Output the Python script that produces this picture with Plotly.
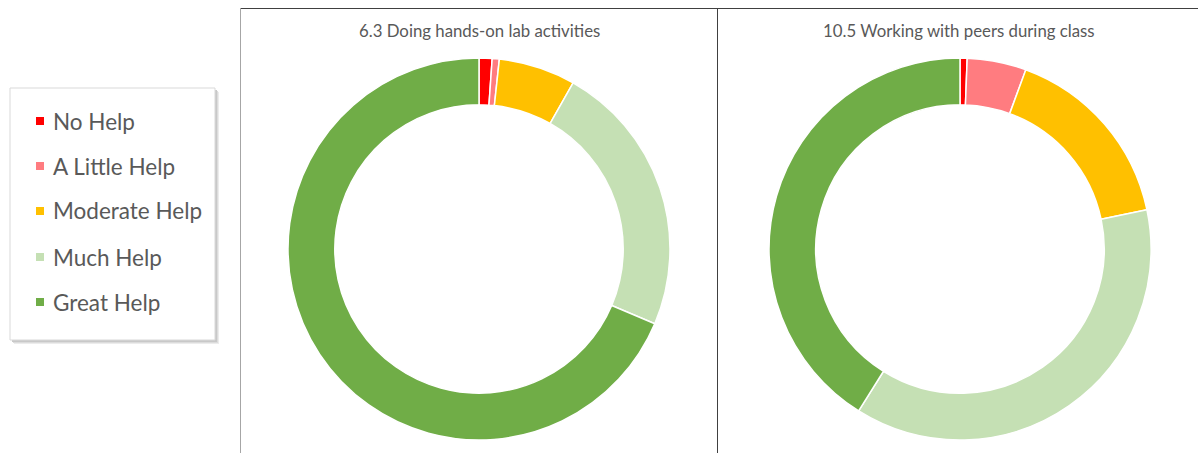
import plotly.graph_objects as go

W, H = 1198, 453

categories = ["No Help", "A Little Help", "Moderate Help", "Much Help", "Great Help"]
colors = ["#FF0000", "#FF7C80", "#FFC000", "#C5E0B4", "#70AD47"]

title_1 = "6.3 Doing hands-on lab activities"
values_1 = [1.1, 0.6, 6.5, 23.2, 68.6]

title_2 = "10.5 Working with peers during class"
values_2 = [0.6, 5.0, 16.1, 37.2, 41.1]


def px(x):
    return x / W


def py(y):
    return 1 - y / H


fig = go.Figure()

for vals, (x0, x1) in [(values_1, (288, 670)), (values_2, (769, 1151))]:
    fig.add_trace(go.Pie(
        labels=categories,
        values=vals,
        hole=0.755,
        sort=False,
        direction="clockwise",
        rotation=0,
        marker=dict(colors=colors, line=dict(color="white", width=1.5)),
        textinfo="none",
        hoverinfo="label+percent",
        showlegend=False,
        domain=dict(x=[px(x0), px(x1)], y=[py(440), py(58)]),
    ))

shapes = []
# panel borders
shapes.append(dict(type="line", xref="paper", yref="paper", x0=px(240), x1=px(1198), y0=py(8.5), y1=py(8.5),
                   line=dict(color="#404040", width=1)))
shapes.append(dict(type="line", xref="paper", yref="paper", x0=px(240.5), x1=px(240.5), y0=py(8), y1=py(460),
                   line=dict(color="#a6a6a6", width=1)))
shapes.append(dict(type="line", xref="paper", yref="paper", x0=px(717.5), x1=px(717.5), y0=py(8), y1=py(460),
                   line=dict(color="#404040", width=1)))

# legend box shadow + box
for off, col in [(4, "#ececec"), (3, "#dcdcdc"), (2, "#c8c8c8")]:
    shapes.append(dict(type="rect", xref="paper", yref="paper", x0=px(10 + off), x1=px(215 + off),
                       y0=py(88 + off), y1=py(340 + off), fillcolor=col, line=dict(width=0), layer="below"))
shapes.append(dict(type="rect", xref="paper", yref="paper", x0=px(10), x1=px(215), y0=py(88), y1=py(340),
                   fillcolor="white", line=dict(color="#d9d9d9", width=1), layer="below"))

annotations = []
legend_y = [121, 166, 211, 257, 302]
for cat, col, yy in zip(categories, colors, legend_y):
    shapes.append(dict(type="rect", xref="paper", yref="paper", x0=px(36), x1=px(44), y0=py(yy - 4),
                       y1=py(yy + 4), fillcolor=col, line=dict(width=0)))
    annotations.append(dict(text=cat, x=px(51), y=py(yy), xref="paper", yref="paper", xanchor="left",
                            yanchor="middle", showarrow=False,
                            font=dict(family="Lato, Carlito, sans-serif", size=22.5, color="#595959")))

for t, cx in [(title_1, 479), (title_2, 959)]:
    annotations.append(dict(text=t, x=px(cx), y=py(30), xref="paper", yref="paper", xanchor="center",
                            yanchor="middle", showarrow=False,
                            font=dict(family="Lato, Carlito, sans-serif", size=16.8, color="#595959")))

fig.update_layout(
    width=W, height=H,
    margin=dict(l=0, r=0, t=0, b=0),
    paper_bgcolor="white",
    plot_bgcolor="white",
    shapes=shapes,
    annotations=annotations,
    showlegend=False,
)

fig.write_html("out.html", config={"displayModeBar": False},
               post_script="document.body.style.margin='0';")
